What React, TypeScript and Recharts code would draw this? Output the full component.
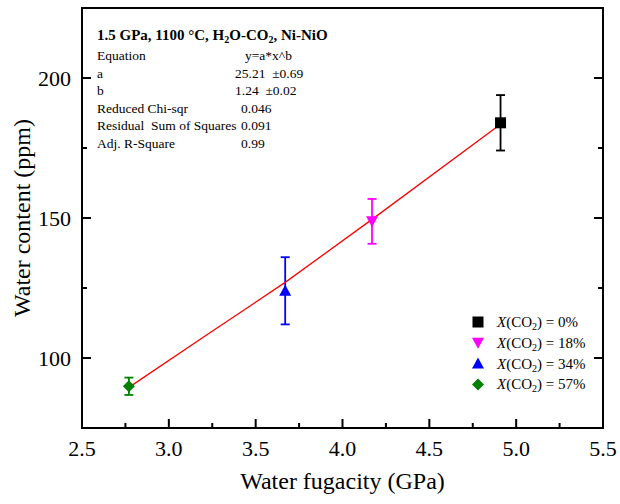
import { ScatterChart, Scatter, XAxis, YAxis, ErrorBar, ReferenceArea } from "recharts";

// ─── Data ────────────────────────────────────────────────────────────────────
const fugacity = [4.91, 4.17, 3.67, 2.77]; // GPa
const waterContent = [184, 148.8, 124, 89.9]; // ppm
const waterError = [9.9, 8, 12, 3.1];
const co2Fraction = ["0%", "18%", "34%", "57%"];

// red fit curve y = a*x^b
const fitFugacity = [2.77, 3.2, 3.67, 4.17, 4.91];
const fitWater = [89.5, 107.5, 127, 149.5, 183.5];

const xTicks = [2.5, 2.75, 3, 3.25, 3.5, 3.75, 4, 4.25, 4.5, 4.75, 5, 5.25, 5.5];
const yTicks = [75, 100, 125, 150, 175, 200, 225];
const xMajor = [2.5, 3, 3.5, 4, 4.5, 5, 5.5];
const yMajor = [100, 150, 200];

const fitTitle = "1.5 GPa, 1100 °C, H2O-CO2, Ni-NiO";
const fitRows = ["Equation", "a", "b", "Reduced Chi-sqr", "Residual  Sum of Squares", "Adj. R-Square"];
const fitValues = ["y=a*x^b", "25.21  ±0.69", "1.24  ±0.02", "0.046", "0.091", "0.99"];

// ─── Styles ──────────────────────────────────────────────────────────────────
const FONT = "'Liberation Serif', 'Times New Roman', serif";
const markers = [
  { kind: "square", color: "#000000" },
  { kind: "down", color: "#ff00ff" },
  { kind: "up", color: "#0000ff" },
  { kind: "diamond", color: "#008000" },
];
const valueX = [245, 235, 235, 241, 241, 241];
const tickStyle = { stroke: "#000", strokeWidth: 2 };

function Marker({ cx, cy, kind, color }: { cx: number; cy: number; kind: string; color: string }) {
  if (kind === "square") return <rect x={cx - 5.5} y={cy - 5.5} width={11} height={11} fill={color} />;
  if (kind === "down") return <path d={`M${cx - 6},${cy - 5} L${cx + 6},${cy - 5} L${cx},${cy + 6} Z`} fill={color} />;
  if (kind === "up") return <path d={`M${cx - 6},${cy + 5} L${cx + 6},${cy + 5} L${cx},${cy - 6} Z`} fill={color} />;
  return <path d={`M${cx},${cy - 6} L${cx + 6},${cy} L${cx},${cy + 6} L${cx - 6},${cy} Z`} fill={color} />;
}

// inward ticks, labels only on major values
function BottomTick({ x, y, payload }: any) {
  const major = xMajor.includes(payload.value);
  return (
    <g>
      <path d={`M${x},${y}V${y - (major ? 9 : 5)}`} {...tickStyle} />
      {major && (
        <text x={x} y={y + 28} textAnchor="middle" fontSize={22} fontFamily={FONT} fill="#000">
          {payload.value.toFixed(1)}
        </text>
      )}
    </g>
  );
}
function TopTick({ x, y, payload }: any) {
  const major = xMajor.includes(payload.value);
  return <path d={`M${x},${y}V${y + (major ? 9 : 5)}`} {...tickStyle} />;
}
function LeftTick({ x, y, payload }: any) {
  const major = yMajor.includes(payload.value);
  return (
    <g>
      <path d={`M${x},${y}H${x + (major ? 9 : 5)}`} {...tickStyle} />
      {major && (
        <text x={x - 11} y={y + 7.5} textAnchor="end" fontSize={22} fontFamily={FONT} fill="#000">
          {payload.value}
        </text>
      )}
    </g>
  );
}
function RightTick({ x, y, payload }: any) {
  const major = yMajor.includes(payload.value);
  return <path d={`M${x},${y}H${x - (major ? 9 : 5)}`} {...tickStyle} />;
}

export default function App() {
  const fitData = fitFugacity.map((x, i) => ({ x, y: fitWater[i] }));
  const [t1, t2, t3] = fitTitle.split("2");
  return (
    <div style={{ position: "relative", width: 620, height: 504, background: "#fff" }}>
      <style>{"body{margin:0}"}</style>
      <ScatterChart width={620} height={504} margin={{ top: 7, right: 16, bottom: 0, left: 0 }}>
        {/* axis frame */}
        <ReferenceArea
          xAxisId="bottom" yAxisId="left" x1={2.5} x2={5.5} y1={75} y2={225}
          fill="none" fillOpacity={0} stroke="#000" strokeWidth={2} ifOverflow="visible"
        />
        <XAxis
          xAxisId="bottom" type="number" dataKey="x" domain={[2.5, 5.5]} ticks={xTicks} interval={0}
          height={76} tickSize={0} tickMargin={0} tick={<BottomTick />} axisLine={false} tickLine={false}
          allowDataOverflow
          label={{ value: "Water fugacity (GPa)", position: "insideBottom", offset: 15, style: { fontSize: 24, fontFamily: FONT, fill: "#000" } }}
        />
        <XAxis
          xAxisId="top" orientation="top" type="number" domain={[2.5, 5.5]} ticks={xTicks} interval={0}
          height={1} tickSize={0} tickMargin={0} tick={<TopTick />} axisLine={false} tickLine={false}
          allowDataOverflow
        />
        <YAxis
          yAxisId="left" type="number" dataKey="y" domain={[75, 225]} ticks={yTicks} interval={0}
          width={82} tickSize={0} tickMargin={0} tick={<LeftTick />} axisLine={false} tickLine={false}
          allowDataOverflow
          label={{ value: "Water content (ppm)", angle: -90, position: "insideLeft", offset: 21, style: { fontSize: 24, fontFamily: FONT, fill: "#000", textAnchor: "middle" } }}
        />
        <YAxis
          yAxisId="right" orientation="right" type="number" domain={[75, 225]} ticks={yTicks} interval={0}
          width={1} tickSize={0} tickMargin={0} tick={<RightTick />} axisLine={false} tickLine={false}
          allowDataOverflow
        />
        <Scatter
          xAxisId="bottom" yAxisId="left" data={fitData} line={{ stroke: "#ff0000", strokeWidth: 1.3 }}
          lineType="joint" shape={() => <g />} isAnimationActive={false}
        />
        {fugacity.map((x, i) => (
          <Scatter
            key={i} xAxisId="bottom" yAxisId="left" name={co2Fraction[i]}
            data={[{ x, y: waterContent[i], err: waterError[i] }]}
            fill={markers[i].color} isAnimationActive={false}
            shape={(p: any) => <Marker cx={p.cx} cy={p.cy} kind={markers[i].kind} color={markers[i].color} />}
          >
            <ErrorBar dataKey="err" direction="y" width={4.5} stroke={markers[i].color} strokeWidth={1.8} />
          </Scatter>
        ))}
      </ScatterChart>

      <svg width={620} height={504} style={{ position: "absolute", left: 0, top: 0, pointerEvents: "none" }} fontFamily={FONT}>
        {/* fit statistics */}
        <text x={97} y={39.5} fontSize={15} fontWeight="bold" fill="#000">
          {t1}<tspan fontSize={10} dy={3}>2</tspan><tspan dy={-3}>{t2}</tspan>
          <tspan fontSize={10} dy={3}>2</tspan><tspan dy={-3}>{t3}</tspan>
        </text>
        {fitRows.map((r, i) => (
          <g key={r}>
            <text x={97} y={60 + i * 17.5} fontSize={13.5} fill="#000" style={{ whiteSpace: "pre" }}>{r}</text>
            <text x={valueX[i]} y={60 + i * 17.5} fontSize={13.5} fill="#000" style={{ whiteSpace: "pre" }}>{fitValues[i]}</text>
          </g>
        ))}
        {/* legend */}
        {co2Fraction.map((c, i) => (
          <g key={c}>
            <Marker cx={478} cy={322 + i * 20.8} kind={markers[i].kind} color={markers[i].color} />
            <text x={497} y={327 + i * 20.8} fontSize={15} fill="#000">
              <tspan fontStyle="italic">X</tspan>(CO<tspan fontSize={10} dy={3}>2</tspan>
              <tspan dy={-3}>) = {c}</tspan>
            </text>
          </g>
        ))}
      </svg>
    </div>
  );
}
